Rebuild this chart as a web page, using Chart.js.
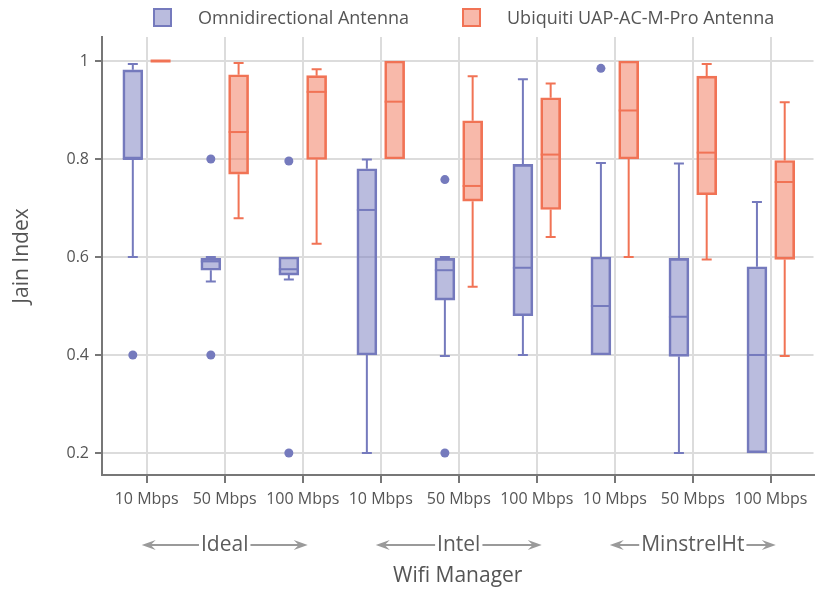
<!DOCTYPE html>
<html>
<head>
<meta charset="utf-8">
<script src="https://cdn.jsdelivr.net/npm/chart.js@4"></script>
<style>
  body { margin: 0; background: #fff; font-family: 'Open Sans', sans-serif; }
  #wrap { position: relative; width: 818px; height: 592px; }
  .legend-item { position: absolute; top: 5px; height: 24px; display: flex; align-items: center; font-size: 18px; color: #555; white-space: nowrap; }
  .legend-box { width: 15px; height: 15px; border: 2px solid; margin-right: 26px; }
</style>
</head>
<body>
<div id="wrap">
  <canvas id="chart" width="818" height="592"></canvas>
  <div class="legend-item" style="left:153px"><span class="legend-box" style="background:rgba(117,122,189,0.5);border-color:rgb(117,122,189)"></span>Omnidirectional Antenna</div>
  <div class="legend-item" style="left:462px"><span class="legend-box" style="background:rgba(241,115,85,0.5);border-color:rgb(241,115,85)"></span>Ubiquiti UAP-AC-M-Pro Antenna</div>
</div>
<script>
// Categories
const managers = ['Ideal', 'Intel', 'MinstrelHt'];
const speeds = ['10 Mbps', '50 Mbps', '100 Mbps'];
const xTickLabels = managers.flatMap(() => speeds);
const yTicks = [0.2, 0.4, 0.6, 0.8, 1];

// Omnidirectional antenna box stats (one per category)
const omniLow  = [0.60, 0.55, 0.554, 0.20, 0.398, 0.40, 0.40, 0.20, 0.20];
const omniQ1   = [0.80, 0.573, 0.563, 0.40, 0.512, 0.48, 0.40, 0.397, 0.20];
const omniMed  = [0.80, 0.591, 0.575, 0.696, 0.573, 0.578, 0.50, 0.478, 0.40];
const omniQ3   = [0.982, 0.597, 0.60, 0.78, 0.597, 0.789, 0.60, 0.597, 0.58];
const omniHigh = [0.994, 0.60, 0.60, 0.799, 0.60, 0.963, 0.792, 0.791, 0.712];
const omniOutliers = [[0.4], [0.8, 0.4], [0.796, 0.2], [], [0.758, 0.2], [], [0.985], [], []];

// Ubiquiti antenna box stats
const ubiqLow  = [1.0, 0.679, 0.627, 0.80, 0.539, 0.641, 0.60, 0.595, 0.398];
const ubiqQ1   = [1.0, 0.769, 0.799, 0.80, 0.714, 0.697, 0.80, 0.727, 0.595];
const ubiqMed  = [1.0, 0.855, 0.937, 0.917, 0.745, 0.809, 0.899, 0.813, 0.753];
const ubiqQ3   = [1.0, 0.972, 0.970, 1.0, 0.878, 0.925, 1.0, 0.969, 0.797];
const ubiqHigh = [1.0, 0.996, 0.983, 1.0, 0.969, 0.954, 1.0, 0.994, 0.916];
const ubiqOutliers = [[], [], [], [], [], [], [], [], []];

const omniColor = 'rgb(117,122,189)';
const ubiqColor = 'rgb(241,115,85)';
const boxOffset = 0.178;
const boxWidth = 20;

const series = [
  { color: omniColor, offset: -boxOffset, low: omniLow, q1: omniQ1, med: omniMed, q3: omniQ3, high: omniHigh },
  { color: ubiqColor, offset: boxOffset, low: ubiqLow, q1: ubiqQ1, med: ubiqMed, q3: ubiqQ3, high: ubiqHigh }
];

function boxData(q1, q3, offset) {
  return q1.map((v, i) => ({ x: i + offset, y: [v, q3[i]] }));
}
function outlierData(list, offset) {
  const pts = [];
  list.forEach((vals, i) => vals.forEach(v => pts.push({ x: i + offset, y: v })));
  return pts;
}

// Whiskers, caps, medians and the group labels under the axis
const boxParts = {
  id: 'boxParts',
  afterDatasetsDraw(chart) {
    const { ctx, scales: { x, y } } = chart;
    ctx.save();
    series.forEach(s => {
      ctx.strokeStyle = s.color;
      s.q1.forEach((q1, i) => {
        const cx = x.getPixelForValue(i + s.offset);
        const cap = 5;
        ctx.lineWidth = 2;
        const segs = [[s.q3[i], s.high[i]], [q1, s.low[i]]];
        segs.forEach(([from, to]) => {
          if (Math.abs(from - to) < 1e-6) return;
          ctx.beginPath();
          ctx.moveTo(cx, y.getPixelForValue(from));
          ctx.lineTo(cx, y.getPixelForValue(to));
          ctx.moveTo(cx - cap, y.getPixelForValue(to));
          ctx.lineTo(cx + cap, y.getPixelForValue(to));
          ctx.stroke();
        });
        // flat box (q1 == q3) shows as a thicker bar
        ctx.lineWidth = Math.abs(s.q3[i] - q1) < 1e-6 ? 3 : 2;
        const my = y.getPixelForValue(s.med[i]);
        ctx.beginPath();
        ctx.moveTo(cx - boxWidth / 2, my);
        ctx.lineTo(cx + boxWidth / 2, my);
        ctx.stroke();
      });
    });
    ctx.restore();
  },
  afterDraw(chart) {
    const { ctx, scales: { x } } = chart;
    ctx.save();
    ctx.font = '21px "Open Sans"';
    ctx.textAlign = 'center';
    ctx.textBaseline = 'middle';
    const gy = 545;
    managers.forEach((m, g) => {
      const cx = x.getPixelForValue(g * 3 + 1);
      const tw = ctx.measureText(m).width;
      ctx.fillStyle = '#5c5c5c';
      ctx.fillText(m, cx, gy);
      ctx.strokeStyle = '#9a9a9a';
      ctx.fillStyle = '#9a9a9a';
      ctx.lineWidth = 2;
      [[cx - tw / 2 - 2, cx - 83], [cx + tw / 2 + 2, cx + 83]].forEach(([a, b]) => {
        const dir = Math.sign(b - a);
        ctx.beginPath();
        ctx.moveTo(a, gy);
        ctx.lineTo(b - dir * 8, gy);
        ctx.stroke();
        ctx.beginPath();
        ctx.moveTo(b, gy);
        ctx.lineTo(b - dir * 14, gy - 5);
        ctx.lineTo(b - dir * 9, gy);
        ctx.lineTo(b - dir * 14, gy + 5);
        ctx.closePath();
        ctx.fill();
      });
    });
    ctx.restore();
  }
};

const ctx = document.getElementById('chart').getContext('2d');
const chart = new Chart(ctx, {
  type: 'bar',
  data: {
    datasets: [
      {
        label: 'Omnidirectional Antenna',
        data: boxData(omniQ1, omniQ3, -boxOffset),
        backgroundColor: 'rgba(117,122,189,0.5)',
        borderColor: omniColor,
        borderWidth: 2,
        borderSkipped: false,
        barThickness: boxWidth,
        grouped: false
      },
      {
        label: 'Ubiquiti UAP-AC-M-Pro Antenna',
        data: boxData(ubiqQ1, ubiqQ3, boxOffset),
        backgroundColor: 'rgba(241,115,85,0.5)',
        borderColor: ubiqColor,
        borderWidth: 2,
        borderSkipped: false,
        barThickness: boxWidth,
        grouped: false
      },
      {
        type: 'scatter',
        label: 'omni outliers',
        data: outlierData(omniOutliers, -boxOffset),
        backgroundColor: omniColor,
        borderWidth: 0,
        pointRadius: 4.5
      },
      {
        type: 'scatter',
        label: 'ubiq outliers',
        data: outlierData(ubiqOutliers, boxOffset),
        backgroundColor: ubiqColor,
        borderWidth: 0,
        pointRadius: 4.5
      }
    ]
  },
  options: {
    responsive: false,
    animation: false,
    layout: { padding: { top: 37, right: 0, left: 0, bottom: 0 } },
    plugins: {
      legend: { display: false },
      tooltip: { enabled: false }
    },
    scales: {
      x: {
        type: 'linear',
        offset: false,
        min: -0.573,
        max: 8.547,
        afterBuildTicks: s => { s.ticks = xTickLabels.map((_, i) => ({ value: i })); },
        afterFit: s => { s.height = 117; },
        ticks: {
          callback: v => xTickLabels[v],
          color: '#555',
          font: { family: 'Open Sans', size: 16 },
          padding: 7,
          maxRotation: 0,
          autoSkip: false
        },
        grid: { offset: false, color: '#dcdcdc', lineWidth: 2, tickLength: 8, tickColor: '#777', tickWidth: 2 },
        border: { color: '#777', width: 2 },
        title: {
          display: true,
          text: 'Wifi Manager',
          color: '#555',
          font: { family: 'Open Sans', size: 21 },
          padding: { top: 0, bottom: 3 }
        }
      },
      y: {
        min: 0.155,
        max: 1.049,
        afterBuildTicks: s => { s.ticks = yTicks.map(v => ({ value: v })); },
        afterFit: s => { s.width = 102; },
        ticks: {
          callback: v => (v === 1 ? '1' : v.toFixed(1)),
          color: '#555',
          font: { family: 'Open Sans', size: 16 },
          padding: 6
        },
        grid: { color: '#dcdcdc', lineWidth: 2, tickLength: 7, tickColor: '#777', tickWidth: 2 },
        border: { color: '#777', width: 2 },
        title: {
          display: true,
          text: 'Jain Index',
          color: '#555',
          font: { family: 'Open Sans', size: 21 },
          padding: { top: 9, bottom: 0 }
        }
      }
    }
  },
  plugins: [boxParts]
});
</script>
</body>
</html>
